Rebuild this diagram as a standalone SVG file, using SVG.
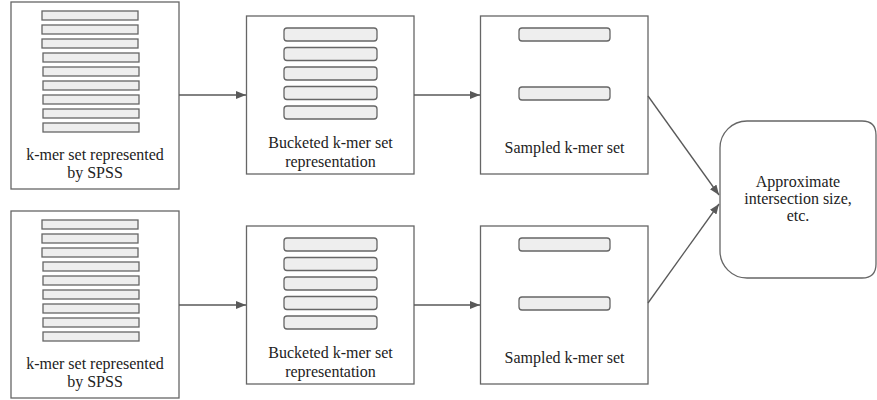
<svg xmlns="http://www.w3.org/2000/svg" width="877" height="400" viewBox="0 0 877 400">
  <style>
    .box { fill: #ffffff; stroke: #666666; stroke-width: 1.3; }
    .bar { fill: #eeeeee; stroke: #666666; stroke-width: 1.3; }
    .lbl { font-family: 'Liberation Serif', 'DejaVu Serif', serif; font-size: 16px; fill: #222222; text-anchor: middle; }
    .edge { fill: none; stroke: #595959; stroke-width: 1.3; }
  </style>
  <defs>
    <marker id="arrow" viewBox="0 0 10 8" refX="10" refY="4" markerWidth="10" markerHeight="8" markerUnits="userSpaceOnUse" orient="auto">
      <path d="M0,0 L10,4 L0,8 Z" fill="#595959"/>
    </marker>
    <!-- stacked k-mer strings of an SPSS -->
    <g id="spss-bars">
      <rect class="bar" x="42" y="11" width="96" height="9"/>
      <rect class="bar" x="42" y="25" width="96" height="9"/>
      <rect class="bar" x="42" y="39" width="96" height="9"/>
      <rect class="bar" x="43" y="53" width="96" height="9"/>
      <rect class="bar" x="43" y="67" width="96" height="9"/>
      <rect class="bar" x="43" y="81" width="96" height="9"/>
      <rect class="bar" x="43" y="95" width="96" height="9"/>
      <rect class="bar" x="43" y="109" width="96" height="9"/>
      <rect class="bar" x="43" y="123" width="96" height="9"/>
    </g>
    <g id="bucket-bars">
      <rect class="bar" x="284" y="28" width="93" height="13" rx="3"/>
      <rect class="bar" x="284" y="47.5" width="93" height="13" rx="3"/>
      <rect class="bar" x="284" y="67" width="93" height="13" rx="3"/>
      <rect class="bar" x="284" y="86.5" width="93" height="13" rx="3"/>
      <rect class="bar" x="284" y="106" width="93" height="13" rx="3"/>
    </g>
    <g id="sample-bars">
      <rect class="bar" x="519" y="28" width="91" height="13" rx="3"/>
      <rect class="bar" x="519" y="87" width="91" height="13" rx="3"/>
    </g>
  </defs>

  <g font-family="Liberation Serif, DejaVu Serif, serif">
  <!-- top row -->
  <g id="spss-top">
    <rect class="box" x="11" y="2" width="168" height="187"/>
    <use href="#spss-bars"/>
    <text class="lbl" x="95" y="160">k-mer set represented</text>
    <text class="lbl" x="95" y="178">by SPSS</text>
  </g>
  <g id="bucketed-top">
    <rect class="box" x="246.5" y="16" width="167.5" height="158"/>
    <use href="#bucket-bars"/>
    <text class="lbl" x="330.5" y="148">Bucketed k-mer set</text>
    <text class="lbl" x="330.5" y="167">representation</text>
  </g>
  <g id="sampled-top">
    <rect class="box" x="480.5" y="16" width="167.5" height="158"/>
    <use href="#sample-bars"/>
    <text class="lbl" x="564.5" y="153">Sampled k-mer set</text>
  </g>

  <!-- bottom row -->
  <g id="spss-bottom" transform="translate(0,209)">
    <rect class="box" x="11" y="2" width="168" height="187"/>
    <use href="#spss-bars"/>
    <text class="lbl" x="95" y="160">k-mer set represented</text>
    <text class="lbl" x="95" y="178">by SPSS</text>
  </g>
  <g id="bucketed-bottom" transform="translate(0,210)">
    <rect class="box" x="246.5" y="16" width="167.5" height="158"/>
    <use href="#bucket-bars"/>
    <text class="lbl" x="330.5" y="148">Bucketed k-mer set</text>
    <text class="lbl" x="330.5" y="167">representation</text>
  </g>
  <g id="sampled-bottom" transform="translate(0,210)">
    <rect class="box" x="480.5" y="16" width="167.5" height="158"/>
    <use href="#sample-bars"/>
    <text class="lbl" x="564.5" y="153">Sampled k-mer set</text>
  </g>

  <!-- result -->
  <g id="result">
    <path class="box" d="M747,121 H862 Q876,121 876,135 V264 Q876,278 862,278 H747 A27,27 0 0 1 720,251 V148 A27,27 0 0 1 747,121 Z"/>
    <text class="lbl" x="798" y="187">Approximate</text>
    <text class="lbl" x="798" y="204">intersection size,</text>
    <text class="lbl" x="798" y="221">etc.</text>
  </g>
  </g>

  <!-- connectors -->
  <g id="connectors">
    <path class="edge" marker-end="url(#arrow)" d="M179,95 H246"/>
    <path class="edge" marker-end="url(#arrow)" d="M414,95 H480"/>
    <path class="edge" marker-end="url(#arrow)" d="M179,305 H246"/>
    <path class="edge" marker-end="url(#arrow)" d="M414,305 H480"/>
    <path class="edge" marker-end="url(#arrow)" d="M648,96 L719,195"/>
    <path class="edge" marker-end="url(#arrow)" d="M648,303 L719,204"/>
  </g>
</svg>
